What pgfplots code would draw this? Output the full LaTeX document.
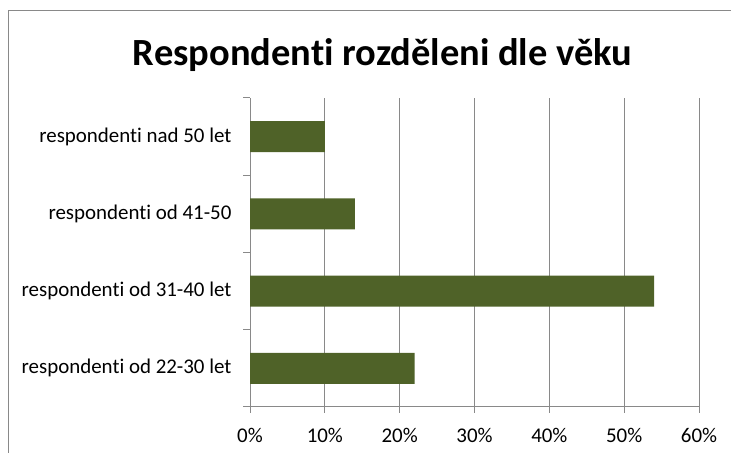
\documentclass[border=0pt]{standalone}
\usepackage{pgfplots}
\pgfplotsset{compat=1.18}
\usepackage{fontspec}
\setmainfont{Carlito}[RawFeature={-liga;-clig}]
\definecolor{barc}{HTML}{4F6228}
\definecolor{gridc}{HTML}{898989}
\begin{document}
\begin{tikzpicture}[x=1bp,y=1bp]
\useasboundingbox (0,0) rectangle (731,453);
\draw[gridc, line width=1bp] (8,0) -- (8,442) -- (731,442);
\node[font=\fontsize{38.6}{44}\selectfont\bfseries] at (382.5,398) {Respondenti rozděleni dle věku};
\begin{axis}[
  at={(250bp,46bp)}, anchor=south west,
  scale only axis, width=449bp, height=309bp,
  xbar, bar width=31bp,
  xmin=0, xmax=60,
  ymin=-0.5, ymax=3.5,
  xtick={0,10,20,30,40,50,60},
  xticklabel={\pgfmathprintnumber{\tick}\%},
  /pgf/number format/assume math mode=true,
  ytick={0,1,2,3},
  yticklabels={respondenti od 22-30 let, respondenti od 31-40 let, respondenti od 41-50, respondenti nad 50 let},
  major y tick style={draw=none},
  minor ytick={-0.5,0.5,1.5,2.5,3.5},
  minor tick length=7bp,
  major tick length=6bp,
  tick align=outside,
  axis x line*=bottom, axis y line*=left,
  axis line style={gridc, line width=1bp, -},
  tick style={gridc, line width=1bp},
  xmajorgrids, grid style={gridc, line width=1bp},
  ticklabel style={font=\fontsize{21}{24}\selectfont, text=black},
  yticklabel style={xshift=-9bp},
  xticklabel style={yshift=-12bp},
]
\addplot[fill=barc, draw=none] coordinates {(22,0) (54,1) (14,2) (10,3)};
\end{axis}
\end{tikzpicture}
\end{document}
